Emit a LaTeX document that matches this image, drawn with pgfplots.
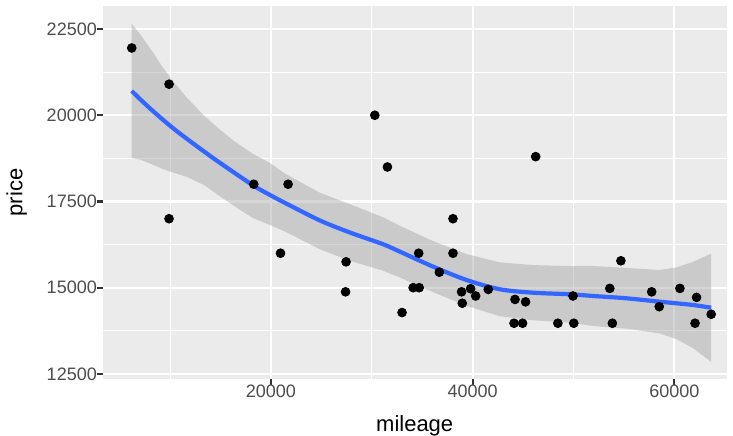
\documentclass[border=0pt]{standalone}
\usepackage{fontspec}
\setmainfont{Liberation Sans}
\usepackage{pgfplots}
\pgfplotsset{compat=1.18}

\definecolor{panelbg}{HTML}{EBEBEB}
\definecolor{ticktext}{HTML}{4D4D4D}
\definecolor{tickmark}{HTML}{333333}
\definecolor{bandgray}{HTML}{999999}
\definecolor{fitblue}{HTML}{3366FF}

\begin{document}
\begin{tikzpicture}
\begin{axis}[
    scale only axis,
    width=312pt,
    height=186.5pt,
    xmin=3320, xmax=65190,
    ymin=12353, ymax=23167,
    axis background/.style={fill=panelbg},
    axis line style={draw=none},
    tick pos=left,
    tick align=outside,
    major tick length=2.75pt,
    minor tick length=0pt,
    tick style={color=tickmark, line width=1.07pt},
    scaled ticks=false,
    xtick={20000,40000,60000},
    xticklabels={20000,40000,60000},
    ytick={12500,15000,17500,20000,22500},
    yticklabels={12500,15000,17500,20000,22500},
    minor xtick={10000,30000,50000},
    minor ytick={13750,16250,18750,21250},
    grid=both,
    major grid style={white, line width=1.07pt},
    minor grid style={white, line width=0.53pt},
    tick label style={font=\fontsize{9}{10}\selectfont, text=ticktext, inner sep=0pt},
    xticklabel style={anchor=north},
    yticklabel style={anchor=east},
    xlabel={mileage},
    ylabel={price},
    every axis x label/.style={at={(axis description cs:0.5,-0.142)}, anchor=base,
        font=\fontsize{11}{12}\selectfont},
    every axis y label/.style={at={(axis description cs:-0.1378,0.5)}, anchor=center,
        rotate=90, font=\fontsize{11}{12}\selectfont},
    clip=false,
]
% raw points (drawn first: the band lies over them, as in ggplot)
\addplot[only marks, mark=*, mark size=2.2pt, black] coordinates {
    (6200,21950) (9900,20900) (9900,17000) (18300,18000) (21700,18000)
    (20950,16000) (27450,15750) (27400,14880) (30300,20000) (31550,18500)
    (33000,14280) (34100,15000) (34700,15000) (34650,16000) (36700,15450)
    (38050,17000) (38050,16000) (38900,14880) (38970,14550) (39800,14970)
    (40300,14760) (41550,14950) (44200,14660) (45250,14590) (44100,13970)
    (44950,13970) (46250,18800) (48450,13970) (49950,14760) (50030,13970)
    (53600,14980) (53850,13970) (54700,15780) (57750,14880) (58500,14450)
    (60550,14980) (62200,14720) (62050,13970) (63650,14230)
};
% confidence band: upper edge left to right, lower edge right to left
\addplot[fill=bandgray, fill opacity=0.4, draw=none] coordinates {
    (6200,22648) (7016,22357) (8346,21801) (9200,21420) (10187,21028) (11650,20514)
    (13458,19963) (14945,19580) (16500,19220) (18215,18879) (19899,18617) (21386,18310)
    (24854,17754) (27827,17421) (31128,17042) (32793,16794) (36093,16349)
    (39393,15974) (42703,15734) (46003,15655) (49639,15629) (51940,15630)
    (55250,15573) (58549,15514) (60204,15588) (61849,15749) (63650,15990)
    (63650,12850) (61849,13249) (60204,13508) (58549,13674) (55250,13813)
    (51940,13890) (49639,13989) (46003,14055) (42703,14174) (39393,14474)
    (36093,14869) (32793,15294) (31128,15492) (27827,15781) (24854,16114)
    (21386,16630) (19899,16817) (18215,17019) (16500,17340) (14945,17650) (13458,17963)
    (11650,18214) (10187,18348) (9200,18450) (8346,18561) (7016,18717) (6200,18758)
} -- cycle;
% loess fit
\addplot[color=fitblue, line width=2.1pt, smooth] coordinates {
    (6200,20703) (7016,20470) (8346,20110) (10187,19650) (11650,19320)
    (13458,18930) (14945,18620) (18215,17970) (19899,17690) (21386,17460)
    (24854,16950) (27827,16601) (31128,16260) (32793,16044) (36093,15609)
    (39393,15224) (42703,14954) (46003,14855) (49639,14809) (51940,14760)
    (55250,14693) (58549,14594) (60204,14548) (61849,14499) (63650,14420)
};
\end{axis}
\pgfresetboundingbox
\path (current axis.south west) ++(-51.35pt,-28pt) rectangle ++(366.5pt,217.5pt);
\end{tikzpicture}
\end{document}
